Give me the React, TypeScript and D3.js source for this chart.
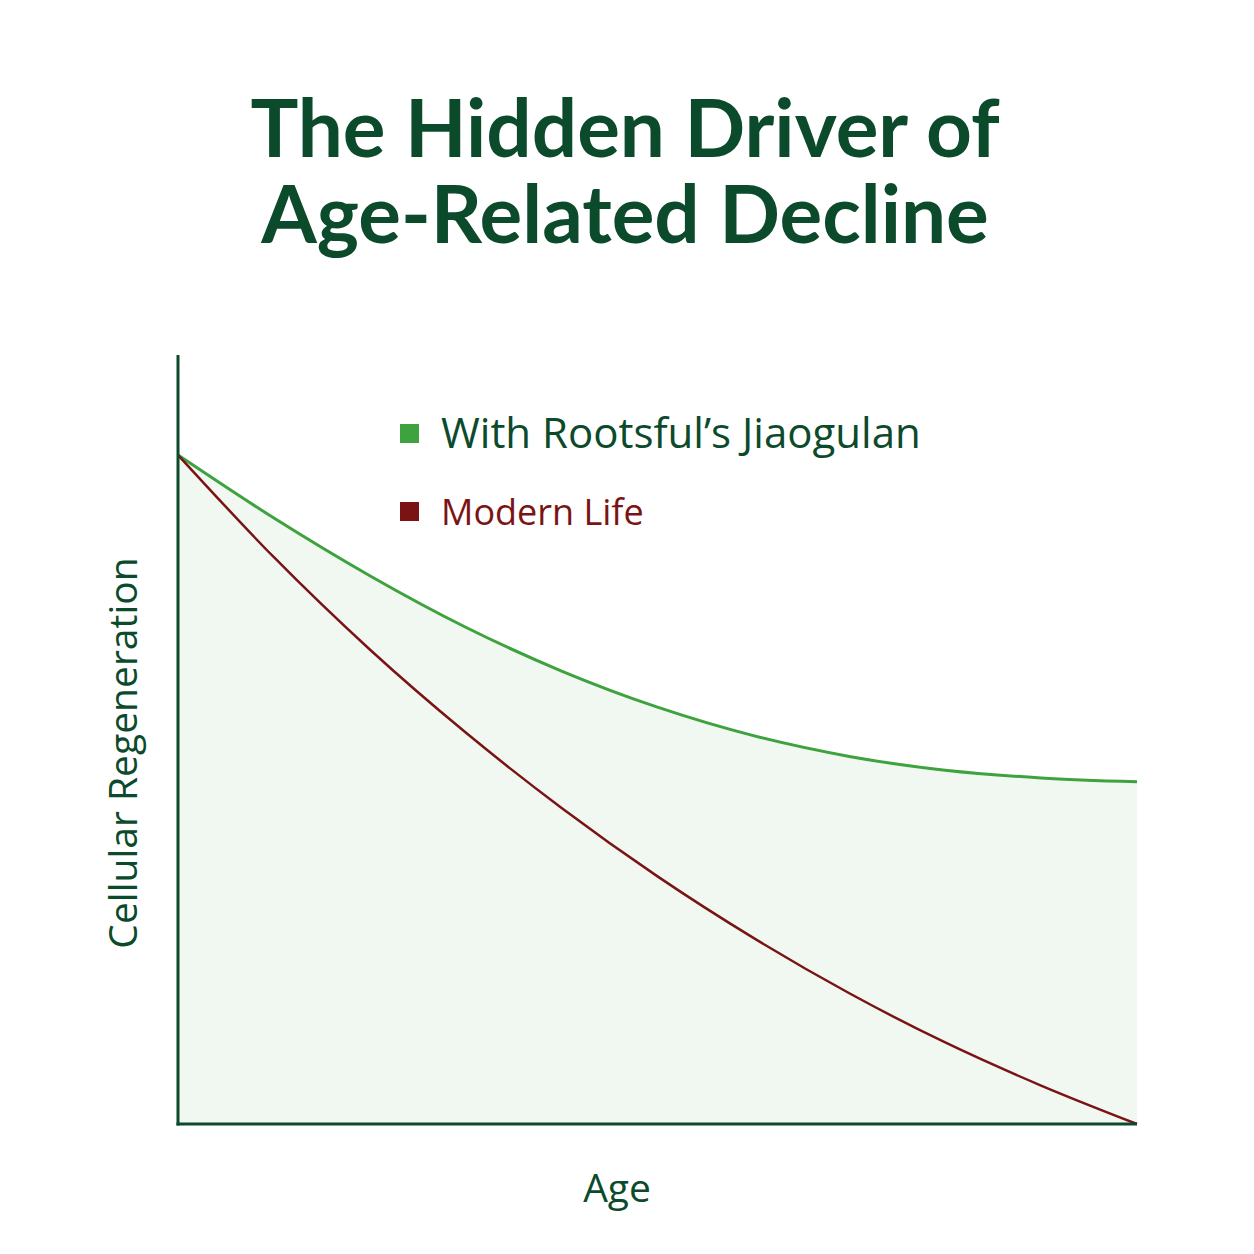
// Cellular regeneration vs age chart
import React from 'react';
import * as d3 from 'd3';

const ages = [0, 10, 20, 30, 40, 50, 60, 70, 80, 90, 100];
const jiaogulanValues = [87.0, 78.8, 71.3, 64.6, 58.9, 54.2, 50.5, 47.8, 46.0, 45.0, 44.5];
const modernLifeValues = [87.0, 73.7, 61.7, 50.9, 41.1, 32.2, 24.2, 17.0, 10.6, 5.0, 0];
const seriesNames = ['With Rootsful\u2019s Jiaogulan', 'Modern Life'];
const titleLines = ['The Hidden Driver of', 'Age-Related Decline'];

const W = 1254;
const H = 1254;
const margin = { left: 178, right: 117, top: 355, bottom: 130 };

const DARK = '#0c4a2c';
const GREEN = '#3ea33e';
const RED = '#7a1414';
const FILL = '#f1f8f1';
const BODY_FONT = "'Open Sans', 'Noto Sans', sans-serif";

export default function App() {
  const x = d3.scaleLinear().domain([0, 100]).range([margin.left, W - margin.right]);
  const y = d3.scaleLinear().domain([0, 100]).range([H - margin.bottom, margin.top]);

  const green = ages.map((a, i) => [a, jiaogulanValues[i]] as [number, number]);
  const red = ages.map((a, i) => [a, modernLifeValues[i]] as [number, number]);

  const line = d3.line<[number, number]>()
    .x(d => x(d[0]))
    .y(d => y(d[1]))
    .curve(d3.curveMonotoneX);

  const area = d3.area<[number, number]>()
    .x(d => x(d[0]))
    .y0(y(0))
    .y1(d => y(d[1]))
    .curve(d3.curveMonotoneX);

  const x0 = x(0), x1 = x(100), yb = y(0), yt = y(100);

  // legend: first entry is drawn larger than the second in the original
  const legend = [
    { name: seriesNames[0], color: GREEN, text: DARK, size: 42, top: 424, base: 448 },
    { name: seriesNames[1], color: RED, text: RED, size: 36, top: 502, base: 525 },
  ];

  return (
    <svg width={W} height={H} style={{ position: 'absolute', left: 0, top: 0, background: '#fff' }}>
      <rect width={W} height={H} fill="#fff" />

      {/* title */}
      {titleLines.map((t, i) => (
        <text key={t} x={625} y={157 + i * 86} textAnchor="middle"
          fontFamily="Lato, sans-serif" fontWeight={700} fontSize={80} fill={DARK}>
          {t}
        </text>
      ))}

      {/* area under green curve */}
      <path d={area(green) || ''} fill={FILL} />

      {/* curves */}
      <path d={line(green) || ''} fill="none" stroke={GREEN} strokeWidth={3} />
      <path d={line(red) || ''} fill="none" stroke={RED} strokeWidth={2.5} />

      {/* axes */}
      <line x1={x0} y1={yt} x2={x0} y2={yb + 1.5} stroke={DARK} strokeWidth={3} />
      <line x1={x0 - 1.5} y1={yb} x2={x1} y2={yb} stroke={DARK} strokeWidth={3} />

      {/* legend */}
      {legend.map(l => (
        <g key={l.name}>
          <rect x={400} y={l.top} width={19} height={19} fill={l.color} />
          <text x={441} y={l.base} fontFamily={BODY_FONT} fontSize={l.size} fill={l.text}>
            {l.name}
          </text>
        </g>
      ))}

      {/* axis titles */}
      <text transform={`translate(137, ${753}) rotate(-90)`} textAnchor="middle"
        fontFamily={BODY_FONT} fontSize={39} fill={DARK}>
        Cellular Regeneration
      </text>
      <text x={617} y={1202} textAnchor="middle"
        fontFamily={BODY_FONT} fontSize={39} fill={DARK}>
        Age
      </text>
    </svg>
  );
}
